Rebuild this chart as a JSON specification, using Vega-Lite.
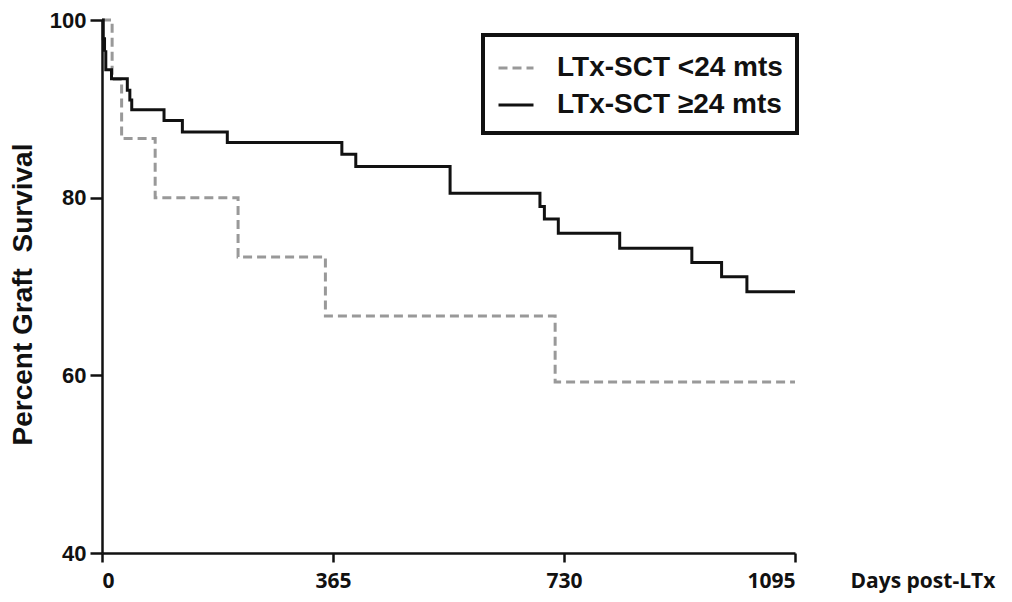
{
  "$schema": "https://vega.github.io/schema/vega-lite/v6.json",
  "width": 693,
  "height": 533,
  "autosize": {"type": "none"},
  "padding": {"left": 102, "top": 20, "right": 217, "bottom": 49},
  "background": "white",
  "config": {
    "view": {"stroke": null},
    "axis": {"grid": false, "domainColor": "#111111", "domainWidth": 2.5, "tickColor": "#111111", "tickWidth": 2.5, "labelColor": "#111111", "titleColor": "#111111"}
  },
  "data": {
    "values": [
      {"group": "LTx-SCT <24 mts", "day": 0, "survival": 100},
      {"group": "LTx-SCT <24 mts", "day": 16, "survival": 93.33},
      {"group": "LTx-SCT <24 mts", "day": 31, "survival": 86.67},
      {"group": "LTx-SCT <24 mts", "day": 84, "survival": 80},
      {"group": "LTx-SCT <24 mts", "day": 215, "survival": 73.33},
      {"group": "LTx-SCT <24 mts", "day": 353, "survival": 66.67},
      {"group": "LTx-SCT <24 mts", "day": 716, "survival": 59.26},
      {"group": "LTx-SCT <24 mts", "day": 1095, "survival": 59.26},
      {"group": "LTx-SCT ≥24 mts", "day": 0, "survival": 100},
      {"group": "LTx-SCT ≥24 mts", "day": 2, "survival": 97.9},
      {"group": "LTx-SCT ≥24 mts", "day": 4, "survival": 96.6},
      {"group": "LTx-SCT ≥24 mts", "day": 6, "survival": 94.4},
      {"group": "LTx-SCT ≥24 mts", "day": 15, "survival": 93.4},
      {"group": "LTx-SCT ≥24 mts", "day": 40, "survival": 92.1},
      {"group": "LTx-SCT ≥24 mts", "day": 44, "survival": 91.0},
      {"group": "LTx-SCT ≥24 mts", "day": 47, "survival": 89.9},
      {"group": "LTx-SCT ≥24 mts", "day": 98, "survival": 88.7},
      {"group": "LTx-SCT ≥24 mts", "day": 127, "survival": 87.4},
      {"group": "LTx-SCT ≥24 mts", "day": 198, "survival": 86.2},
      {"group": "LTx-SCT ≥24 mts", "day": 379, "survival": 84.9},
      {"group": "LTx-SCT ≥24 mts", "day": 401, "survival": 83.5},
      {"group": "LTx-SCT ≥24 mts", "day": 550, "survival": 80.5},
      {"group": "LTx-SCT ≥24 mts", "day": 692, "survival": 79.0},
      {"group": "LTx-SCT ≥24 mts", "day": 699, "survival": 77.6},
      {"group": "LTx-SCT ≥24 mts", "day": 721, "survival": 76.0},
      {"group": "LTx-SCT ≥24 mts", "day": 818, "survival": 74.3},
      {"group": "LTx-SCT ≥24 mts", "day": 932, "survival": 72.7},
      {"group": "LTx-SCT ≥24 mts", "day": 979, "survival": 71.1},
      {"group": "LTx-SCT ≥24 mts", "day": 1019, "survival": 69.4},
      {"group": "LTx-SCT ≥24 mts", "day": 1095, "survival": 69.4}
    ]
  },
  "mark": {"type": "line", "interpolate": "step-after", "strokeWidth": 3},
  "encoding": {
    "x": {
      "field": "day", "type": "quantitative",
      "scale": {"domain": [0, 1095], "nice": false, "zero": true},
      "axis": {
        "values": [0, 365, 730, 1095], "format": "d", "tickSize": 9, "labelPadding": 25, "labelBaseline": "alphabetic",
        "labelFont": "Open Sans", "labelFontWeight": "bold", "labelFontSize": 21,
        "title": "Days post-LTx", "titleFont": "Open Sans", "titleFontWeight": "bold", "titleFontSize": 21,
        "titleAnchor": "start", "titleAlign": "left", "titleX": 748, "titleY": 34, "titleBaseline": "alphabetic"
      }
    },
    "y": {
      "field": "survival", "type": "quantitative",
      "scale": {"domain": [40, 100], "nice": false, "zero": false},
      "axis": {
        "values": [40, 60, 80, 100], "tickSize": 12, "labelPadding": 4,
        "labelFont": "Liberation Sans", "labelFontWeight": "bold", "labelFontSize": 22,
        "title": "Percent Graft\u00a0 Survival", "titleFont": "Liberation Sans", "titleFontWeight": "bold", "titleFontSize": 28,
        "titleX": -79, "titleY": 274, "titleBaseline": "middle"
      }
    },
    "color": {
      "field": "group", "type": "nominal",
      "scale": {"domain": ["LTx-SCT <24 mts", "LTx-SCT ≥24 mts"], "range": ["#999999", "#111111"]},
      "legend": {
        "title": null, "orient": "none", "legendX": 381, "legendY": 15,
        "symbolType": "stroke", "symbolSize": 1225, "symbolStrokeWidth": 3,
        "labelFont": "Liberation Sans", "labelFontWeight": "bold", "labelFontSize": 28, "labelColor": "#111111", "labelLimit": 500,
        "labelOffset": 22, "rowPadding": 4, "padding": 14,
        "strokeColor": "#111111",
        "encode": {"legend": {"update": {"strokeWidth": {"value": 4}}}}
      }
    },
    "strokeDash": {
      "field": "group", "type": "nominal",
      "scale": {"domain": ["LTx-SCT <24 mts", "LTx-SCT ≥24 mts"], "range": [[9, 5], [1, 0]]},
      "legend": {
        "title": null, "orient": "none", "legendX": 381, "legendY": 15,
        "symbolType": "stroke", "symbolSize": 1225, "symbolStrokeWidth": 3,
        "labelFont": "Liberation Sans", "labelFontWeight": "bold", "labelFontSize": 28, "labelColor": "#111111", "labelLimit": 500,
        "labelOffset": 22, "rowPadding": 4, "padding": 14,
        "strokeColor": "#111111",
        "encode": {"legend": {"update": {"strokeWidth": {"value": 4}}}}
      }
    }
  }
}
